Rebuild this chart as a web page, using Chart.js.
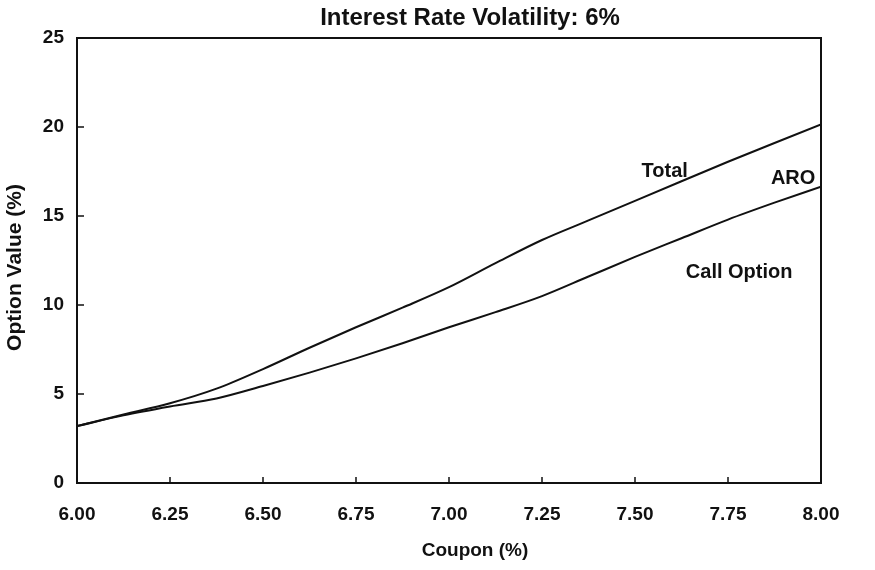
<!DOCTYPE html>
<html>
<head>
<meta charset="utf-8">
<script src="https://cdn.jsdelivr.net/npm/chart.js@4.4.1/dist/chart.umd.min.js"></script>
<style>
  html, body { margin: 0; padding: 0; background: #ffffff; }
  #wrap { width: 875px; height: 570px; }
</style>
</head>
<body>
<div id="wrap"><canvas id="chart" width="875" height="570"></canvas></div>
<script>
// Coupon rates (%) along the x axis
const coupons = [6.00, 6.125, 6.25, 6.375, 6.50, 6.625, 6.75, 6.875, 7.00,
                 7.125, 7.25, 7.375, 7.50, 7.625, 7.75, 7.875, 8.00];
// Total option value (%) = call option + ARO
const totalValue = [3.2, 3.85, 4.48, 5.3, 6.4, 7.6, 8.75, 9.85, 11.0,
                    12.35, 13.65, 14.75, 15.85, 16.95, 18.05, 19.1, 20.15];
// Call option value (%)
const callValue = [3.2, 3.8, 4.3, 4.75, 5.45, 6.2, 7.0, 7.85, 8.75,
                   9.6, 10.5, 11.6, 12.7, 13.75, 14.8, 15.75, 16.65];

const xTicks = [6.00, 6.25, 6.50, 6.75, 7.00, 7.25, 7.50, 7.75, 8.00];
const yTicks = [0, 5, 10, 15, 20, 25];

const chartTitle = "Interest Rate Volatility: 6%";
const xTitle = "Coupon (%)";
const yTitle = "Option Value (%)";

// In-plot labels: [text, coupon, value]
const curveLabels = [
  ["Total", 7.58, 17.5],
  ["ARO", 7.925, 17.1],
  ["Call Option", 7.78, 11.85]
];

const FONT = "'Liberation Sans', Arial, Helvetica, sans-serif";
const INK = "#111111";

const toPoints = (xs, ys) => xs.map((x, i) => ({ x: x, y: ys[i] }));

// Box around the plot, inward tick marks, titles and curve labels
const framePlugin = {
  id: "frameAndLabels",
  afterDraw(chart) {
    const { ctx, chartArea: a, scales: { x, y } } = chart;
    ctx.save();
    ctx.strokeStyle = INK;
    ctx.lineWidth = 2;
    ctx.strokeRect(a.left, a.top, a.right - a.left, a.bottom - a.top);

    ctx.lineWidth = 1.5;
    ctx.beginPath();
    xTicks.forEach(v => {
      const px = x.getPixelForValue(v);
      ctx.moveTo(px, a.bottom);
      ctx.lineTo(px, a.bottom - 6);
    });
    yTicks.forEach(v => {
      const py = y.getPixelForValue(v);
      ctx.moveTo(a.left, py);
      ctx.lineTo(a.left + 7, py);
    });
    ctx.stroke();

    ctx.fillStyle = INK;
    ctx.textAlign = "center";
    ctx.textBaseline = "middle";

    const midX = (a.left + a.right) / 2;
    const midY = (a.top + a.bottom) / 2;

    ctx.font = "bold 24px " + FONT;
    ctx.fillText(chartTitle, midX + 21, a.top - 20);

    ctx.font = "bold 19px " + FONT;
    ctx.fillText(xTitle, midX + 26, a.bottom + 68);

    ctx.save();
    ctx.translate(15, midY + 7);
    ctx.rotate(-Math.PI / 2);
    ctx.font = "bold 21px " + FONT;
    ctx.fillText(yTitle, 0, 0);
    ctx.restore();

    ctx.font = "bold 20px " + FONT;
    curveLabels.forEach(([t, cx, cy]) => {
      ctx.fillText(t, x.getPixelForValue(cx), y.getPixelForValue(cy));
    });
    ctx.restore();
  }
};

new Chart(document.getElementById("chart"), {
  type: "line",
  data: {
    datasets: [
      {
        label: "Total",
        data: toPoints(coupons, totalValue),
        borderColor: INK,
        borderWidth: 2,
        pointRadius: 0,
        cubicInterpolationMode: "monotone",
        fill: false
      },
      {
        label: "Call Option",
        data: toPoints(coupons, callValue),
        borderColor: INK,
        borderWidth: 2,
        pointRadius: 0,
        cubicInterpolationMode: "monotone",
        fill: false
      }
    ]
  },
  options: {
    responsive: false,
    animation: false,
    events: [],
    layout: { padding: { left: 0, right: 54, top: 38, bottom: 0 } },
    plugins: {
      legend: { display: false },
      tooltip: { enabled: false },
      title: { display: false }
    },
    scales: {
      x: {
        type: "linear",
        min: 6,
        max: 8,
        afterFit(scale) { scale.height = 87; },
        afterBuildTicks(scale) { scale.ticks = xTicks.map(v => ({ value: v })); },
        grid: { display: false, drawTicks: false },
        border: { display: true, color: INK, width: 2 },
        ticks: {
          color: INK,
          padding: 20,
          maxRotation: 0,
          font: { family: FONT, size: 19, weight: "bold" },
          callback: v => Number(v).toFixed(2)
        }
      },
      y: {
        min: 0,
        max: 25,
        afterFit(scale) { scale.width = 77; },
        afterBuildTicks(scale) { scale.ticks = yTicks.map(v => ({ value: v })); },
        grid: { display: false, drawTicks: false },
        border: { display: true, color: INK, width: 2 },
        ticks: {
          color: INK,
          padding: 13,
          font: { family: FONT, size: 19, weight: "bold" },
          callback: v => String(v)
        }
      }
    }
  },
  plugins: [framePlugin]
});
</script>
</body>
</html>
